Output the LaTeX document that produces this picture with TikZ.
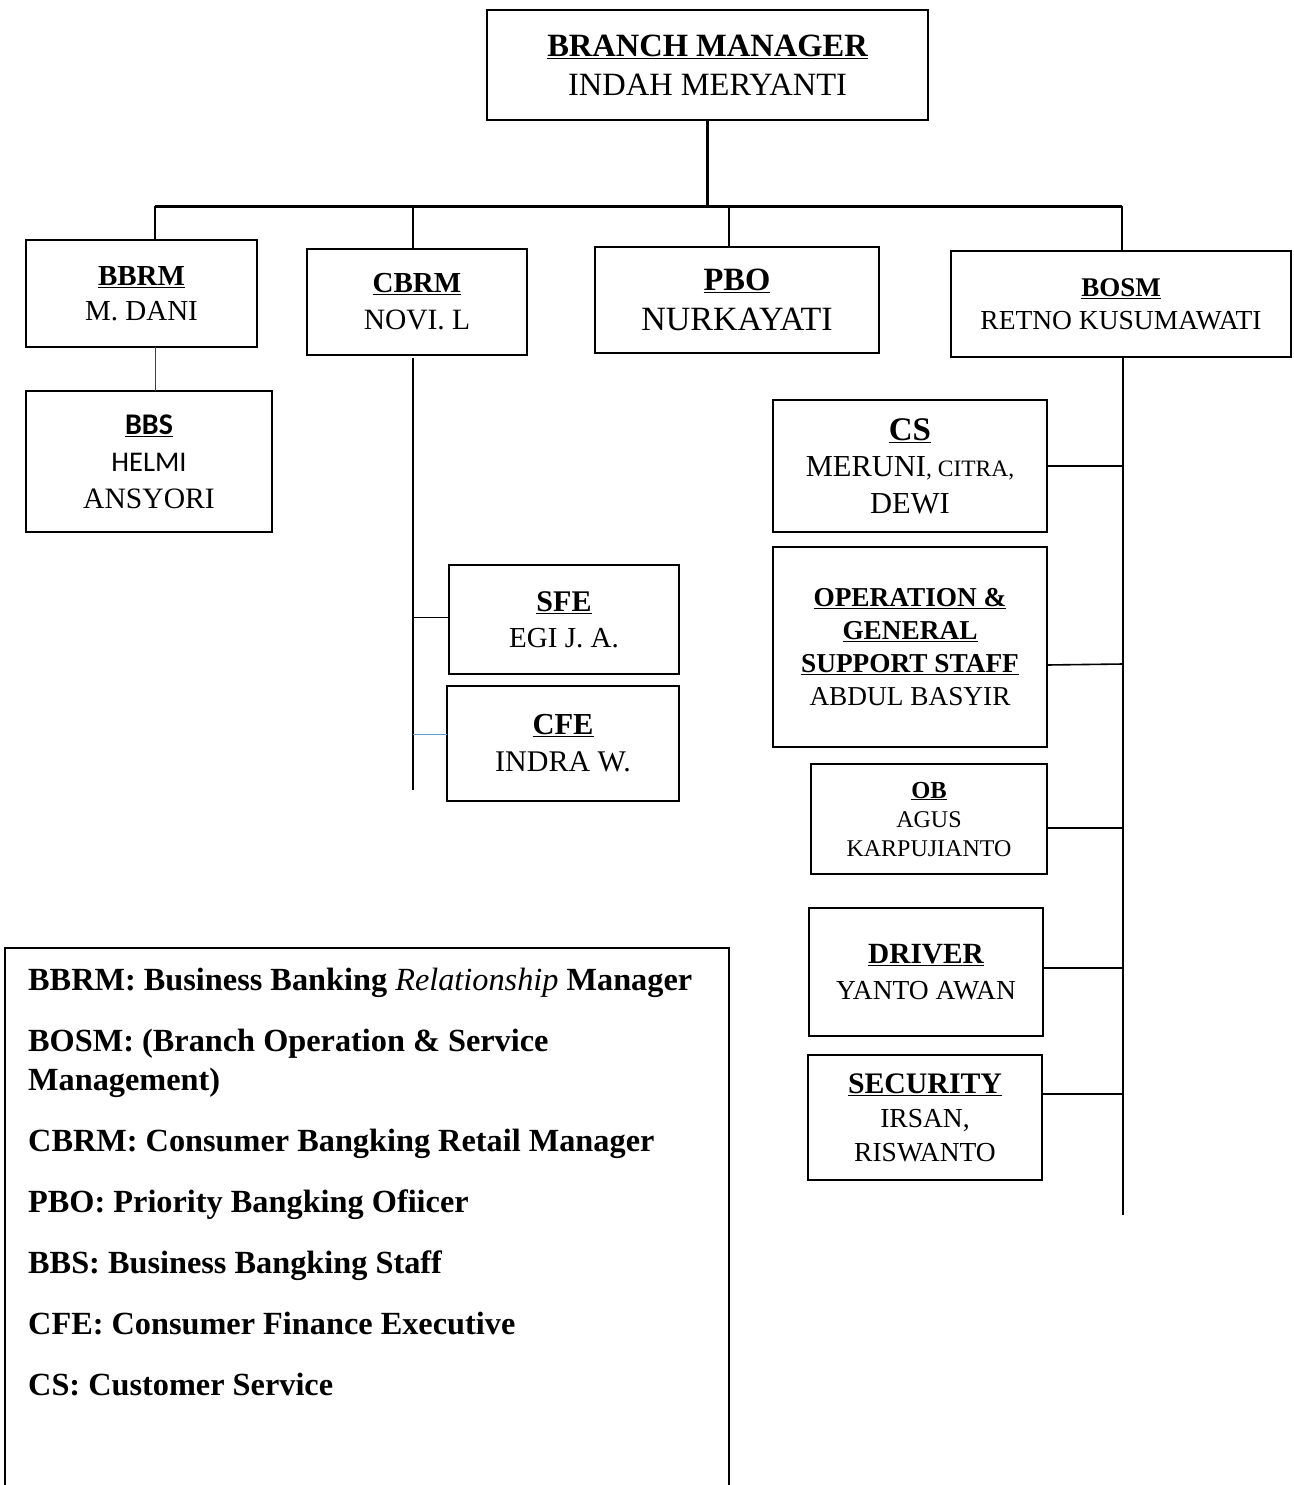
\documentclass[tikz,border=0pt]{standalone}
\usepackage{fontspec}
\setmainfont{Liberation Serif}
\newfontfamily\calibri{Carlito}
\newcommand\fsz[2]{\fontsize{#1}{#2}\selectfont}
\newcommand\ttl[1]{\textbf{\underline{#1}}}
\definecolor{linkblue}{RGB}{91,155,213}
\begin{document}
\begin{tikzpicture}[x=1pt,y=-1pt,
  box/.style={draw,line width=2.2pt,inner sep=0pt,outer sep=0pt,align=center,text=black},
  link/.style={line width=1.6pt},
  thinlink/.style={line width=1pt,black!75},
  bus/.style={line width=3pt},
  legtext/.style={anchor=base west,inner sep=0pt,font=\fsz{32.3}{36}\bfseries}]
\useasboundingbox (0,0) rectangle (1293,1485);
% top
\node[box,minimum width=441pt,minimum height=110pt,font=\fsz{32.5}{39}] (bm) at (707.5,65) {\ttl{BRANCH MANAGER}\\INDAH MERYANTI};
% level 1
\node[box,minimum width=231pt,minimum height=107pt,font=\fsz{29}{35}] (bbrm) at (141.5,293.5) {\ttl{BBRM}\\M. DANI};
\node[box,minimum width=220pt,minimum height=106pt,font=\fsz{29.5}{37}] (cbrm) at (417,302) {{\fsz{29}{37}\ttl{CBRM}}\\NOVI. L};
\node[box,minimum width=284pt,minimum height=106pt,font=\fsz{34}{40}] (pbo) at (737,300) {{\fsz{32.5}{40}\ttl{PBO}}\\NURKAYATI};
\node[box,minimum width=340pt,minimum height=106pt,font=\fsz{27.5}{33}] (bosm) at (1121,304) {{\fsz{27}{33}\ttl{BOSM}}\\RETNO KUSUMAWATI};
% BBRM child
\node[box,minimum width=246pt,minimum height=141pt,font=\fsz{29.6}{37}] (bbs) at (149,461.5) {{\calibri\fsz{30}{37}\bfseries\underline{BBS}}\\{\calibri\fsz{28.5}{37}HELMI}\\ANSYORI};
% CBRM children
\node[box,minimum width=230pt,minimum height=109pt,font=\fsz{29}{36}] (sfe) at (564,619.5) {{\fsz{30}{36}\ttl{SFE}}\\EGI J. A.};
\node[box,minimum width=232pt,minimum height=115pt,font=\fsz{30}{37}] (cfe) at (563,743.5) {{\fsz{30.5}{37}\ttl{CFE}}\\INDRA W.};
% BOSM children
\node[box,minimum width=274pt,minimum height=132pt,font=\fsz{30.5}{36.5}] (cs) at (910,466) {{\fsz{33}{36.5}\ttl{CS}}\\MERUNI{\fsz{23.5}{36.5}, CITRA,}\\DEWI};
\node[box,minimum width=274pt,minimum height=200pt,font=\fsz{27.3}{33}] (ops) at (910,647) {\ttl{OPERATION \&}\\\ttl{GENERAL}\\\ttl{SUPPORT STAFF}\\ABDUL BASYIR};
\node[box,minimum width=236pt,minimum height=110pt,font=\fsz{24}{29}] (ob) at (929,819) {{\fsz{24.5}{29}\ttl{OB}}\\AGUS\\KARPUJIANTO};
\node[box,minimum width=234pt,minimum height=128pt,font=\fsz{27.5}{36}] (driver) at (926,972) {{\fsz{29.3}{36}\ttl{DRIVER}}\\YANTO AWAN};
\node[box,minimum width=234pt,minimum height=125pt,font=\fsz{27.5}{34}] (sec) at (925,1117.5) {{\fsz{29.8}{34}\ttl{SECURITY}}\\IRSAN,\\RISWANTO};
% legend
\node[draw,line width=2pt,inner sep=0pt,minimum width=724pt,minimum height=542pt] (legend) at (367,1219) {};
\node[legtext] (l1) at (28,990) {BBRM: Business Banking {\mdseries\itshape Relationship} Manager};
\node[legtext] (l2) at (28,1051) {BOSM: (Branch Operation \& Service};
\node[legtext] (l3) at (28,1090) {Management)};
\node[legtext] (l4) at (28,1151) {CBRM: Consumer Bangking Retail Manager};
\node[legtext] (l5) at (28,1212) {PBO: Priority Bangking Ofiicer};
\node[legtext] (l6) at (28,1273) {BBS: Business Bangking Staff};
\node[legtext] (l7) at (28,1334) {CFE: Consumer Finance Executive};
\node[legtext] (l8) at (28,1395) {CS: Customer Service};
% bus and drops
\coordinate (busL) at (155,206);
\coordinate (busR) at (1122,206);
\coordinate (dC) at (413,206);
\coordinate (dP) at (729,208);
\coordinate (cEnd) at (413,790);
\coordinate (bEnd) at (1123,1215);
\draw[link,line width=2.2pt] (bm.south) -- (bm.south |- busL);
\draw[bus] (busL) -- (busR);
\draw[link] (busL) -- (busL |- bbrm.north);
\draw[link] (dC) -- (dC |- cbrm.north);
\draw[link] (dP) -- (dP |- pbo.north);
\draw[link] (busR) -- (busR |- bosm.north);
\draw[thinlink] (busL |- bbrm.south) -- (busL |- bbs.north);
% CBRM trunk
\draw[link] ([yshift=-3pt]dC |- cbrm.south) -- (cEnd);
\draw[link] ([yshift=2pt]sfe.west) -- ([yshift=2pt]sfe.west -| cEnd);
\draw[line width=1pt,linkblue] ([yshift=9pt]cfe.west) -- ([yshift=9pt]cfe.west -| cEnd);
% BOSM trunk
\draw[link] (bEnd |- bosm.south) -- (bEnd);
\draw[link] (cs.east) -- (cs.east -| bEnd);
\draw[link] ([yshift=-18pt]ops.east) -- ([yshift=-17pt]ops.east -| bEnd);
\draw[link] ([yshift=-9pt]ob.east) -- ([yshift=-9pt]ob.east -| bEnd);
\draw[link] ([yshift=4pt]driver.east) -- ([yshift=4pt]driver.east -| bEnd);
\draw[link] ([yshift=23.5pt]sec.east) -- ([yshift=23.5pt]sec.east -| bEnd);
\end{tikzpicture}
\end{document}
